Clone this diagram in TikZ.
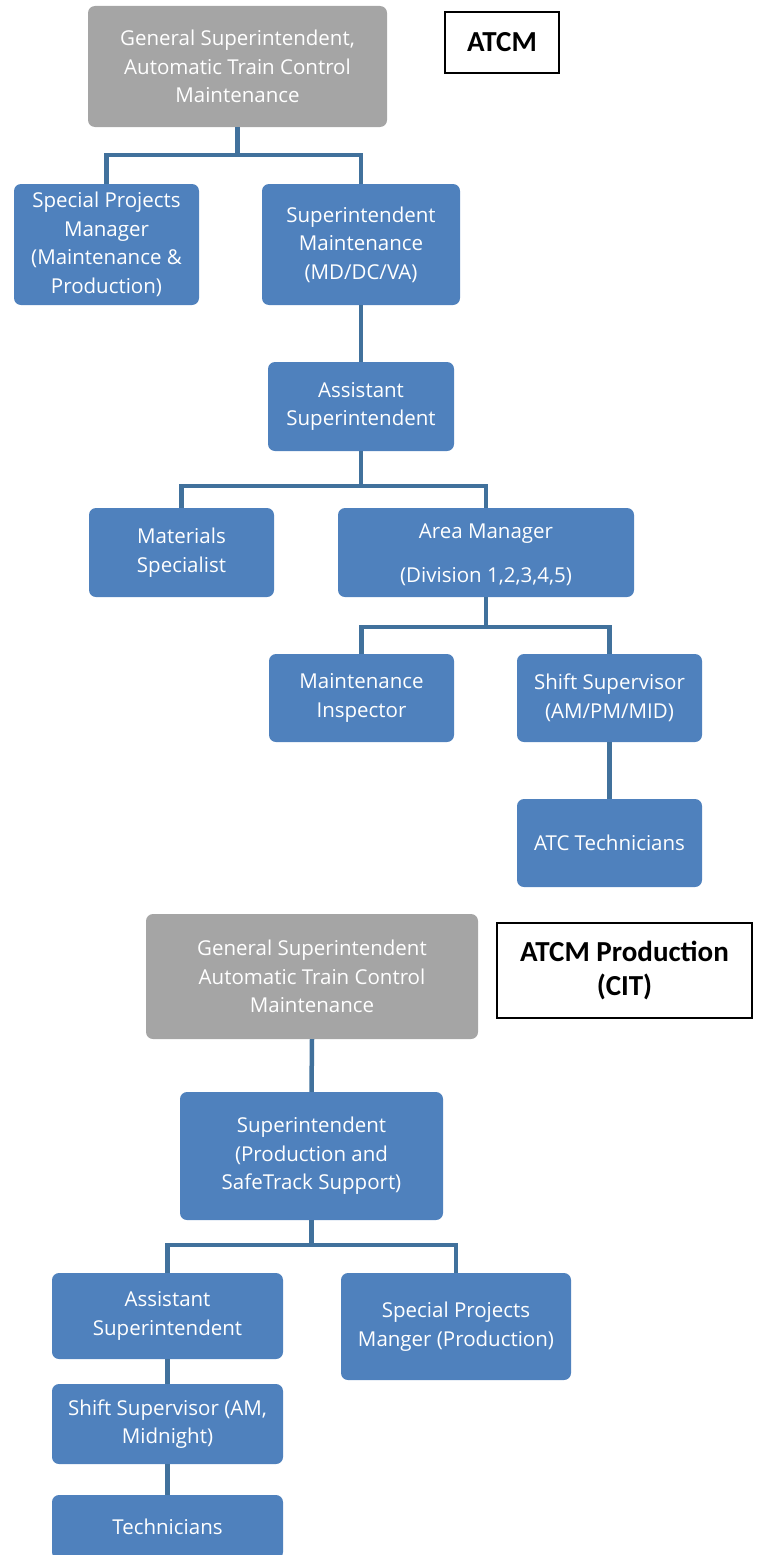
\documentclass[tikz,border=0pt]{standalone}
\usepackage{fontspec}
\setmainfont{Open Sans}
\newfontfamily\labelfont{Carlito}
\definecolor{boxblue}{HTML}{4F81BD}
\definecolor{boxgray}{HTML}{A5A5A5}
\definecolor{linkblue}{HTML}{41719C}
\begin{document}
\begin{tikzpicture}[x=1pt,y=-1pt,
  box/.style={fill=boxblue, draw=none, rounded corners=7pt, text=white, align=center,
    inner sep=0pt, font=\fontsize{20.5}{28.5}\selectfont},
  graybox/.style={box, fill=boxgray},
  boxtext/.style={text=white, align=center, inner sep=0pt, font=\fontsize{20.5}{28.5}\selectfont},
  tag/.style={draw=black, line width=1.3pt, fill=white, align=center, inner sep=0pt,
    font=\labelfont\bfseries\fontsize{29}{34}\selectfont},
  link/.style={draw=linkblue, line width=4.5pt}]
\useasboundingbox (0,0) rectangle (757,1555);
\clip (0,0) rectangle (757,1555);
% ---- ATCM ----
\node[graybox, minimum width=299pt, minimum height=121pt] (gs1) at (237.5,66.5)
  {General Superintendent,\\Automatic Train Control\\Maintenance};
\node[tag, minimum width=114pt, minimum height=61pt] (t1) at (502,42.5) {ATCM};
\node[box, minimum width=185pt, minimum height=121pt] (spm) at (106.5,244.5)
  {Special Projects\\Manager\\(Maintenance \&\\Production)};
\node[box, minimum width=198pt, minimum height=121pt] (sm) at (361,244.5)
  {Superintendent\\Maintenance\\(MD/DC/VA)};
\node[box, minimum width=186pt, minimum height=89pt] (as1) at (361,406.5)
  {Assistant\\Superintendent};
\node[box, minimum width=185pt, minimum height=89pt] (mat) at (181.5,552.5)
  {Materials\\Specialist};
\node[box, minimum width=296pt, minimum height=89pt] (am) at (486,552.5) {};
\node[boxtext] (amtext) at ([yshift=-2.5pt]am.center)
  {Area Manager\\[15pt](Division 1,2,3,4,5)};
\node[box, minimum width=185pt, minimum height=88pt] (mi) at (361.5,698)
  {Maintenance\\Inspector};
\node[box, minimum width=185pt, minimum height=88pt] (ss1) at (609.5,698)
  {Shift Supervisor\\(AM/PM/MID)};
\node[box, minimum width=185pt, minimum height=88pt] (atc) at (609.5,843)
  {ATC Technicians};
\coordinate (j1) at (237.5,155);
\coordinate (j2) at (361,486);
\coordinate (j3) at (486,627);
\draw[link] (gs1.south) -- (j1);
\draw[link] (spm.north) |- (j1) -| (sm.north);
\draw[link] (sm.south) -- (as1.north);
\draw[link] (as1.south) -- (j2);
\draw[link] (mat.north) |- (j2) -| (am.north);
\draw[link] (am.south) -- (j3);
\draw[link] (mi.north) |- (j3) -| (ss1.north);
\draw[link] (ss1.south) -- (atc.north);
% ---- ATCM Production ----
\node[graybox, minimum width=332pt, minimum height=125pt] (gs2) at (312,976.5)
  {General Superintendent\\Automatic Train Control\\Maintenance};
\node[tag, minimum width=255pt, minimum height=95pt] (t2) at (624.5,970.5)
  {ATCM Production\\(CIT)};
\node[box, minimum width=263pt, minimum height=128pt] (sp) at (311.5,1156)
  {Superintendent\\(Production and\\SafeTrack Support)};
\node[box, minimum width=231pt, minimum height=86pt] (as2) at (167.5,1316)
  {Assistant\\Superintendent};
\node[box, minimum width=230pt, minimum height=107pt] (spm2) at (456,1326.5)
  {Special Projects\\Manger (Production)};
\node[box, minimum width=231pt, minimum height=80pt] (ss2) at (167.5,1424)
  {Shift Supervisor (AM,\\Midnight)};
\node[box, minimum width=231pt, minimum height=64pt] (tech) at (167.5,1527)
  {Technicians};
\coordinate (j4) at (311.5,1245);
\draw[link] (gs2.south) -- (sp.north);
\draw[link] (sp.south) -- (j4);
\draw[link] (as2.north) |- (j4) -| (spm2.north);
\draw[link] (as2.south) -- (ss2.north);
\draw[link] (ss2.south) -- (tech.north);
\end{tikzpicture}
\end{document}
